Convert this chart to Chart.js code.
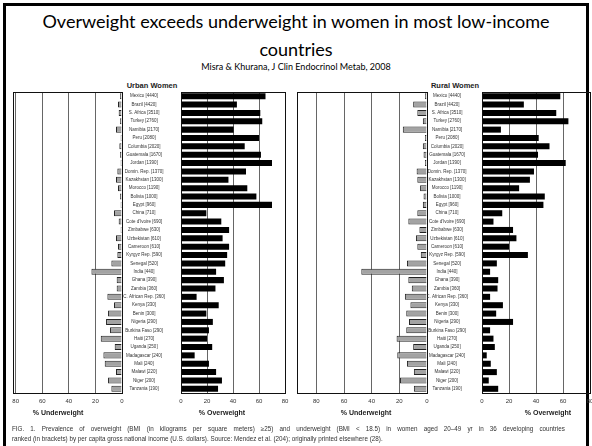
<!DOCTYPE html>
<html>
<head>
<meta charset="utf-8">
<script src="https://cdn.jsdelivr.net/npm/chart.js@4/dist/chart.umd.min.js"></script>
<style>
  html, body { margin: 0; padding: 0; background: #fff; }
  #slide { position: relative; width: 592px; height: 446px; overflow: hidden; background: #fff; }
  #border { position: absolute; left: 3px; top: 3px; width: 586px; height: 470px; border: 3px solid #000; box-sizing: border-box; }
  .txt { position: absolute; white-space: nowrap; color: #000; }
  #t1 { left: 0; width: 592px; top: 10px; text-align: center; font: 18px Lato, sans-serif; }
  #t2 { left: 0; width: 592px; top: 38px; text-align: center; font: 18px Lato, sans-serif; }
  #sub { left: 0; width: 592px; top: 61px; text-align: center; font: 9px Lato, sans-serif; }
  .ptitle { top: 81px; width: 80px; text-align: center; font: bold 7.5px "Liberation Sans", sans-serif; color: #222; }
  .atitle { top: 409px; width: 80px; text-align: center; font: bold 7px "Liberation Sans", sans-serif; color: #222; }
  #cap1, #cap2 { left: 12px; font: 6.3px "Liberation Sans", sans-serif; color: #333; }
  #cap1 { top: 425px; width: 553px; white-space: normal; text-align: justify; text-align-last: justify; }
  #cap2 { top: 435px; }
  canvas { position: absolute; }
</style>
</head>
<body>
<div id="slide">
  <div id="border"></div>
  <div class="txt" id="t1">Overweight exceeds underweight in women in most low-income</div>
  <div class="txt" id="t2">countries</div>
  <div class="txt" id="sub">Misra &amp; Khurana, J Clin Endocrinol Metab, 2008</div>
  <div class="txt ptitle" style="left:112px">Urban Women</div>
  <div class="txt ptitle" style="left:415px">Rural Women</div>
  <canvas id="uUnder" width="130" height="333" style="left:0px;top:80px"></canvas>
  <canvas id="uOver" width="175" height="333" style="left:120px;top:80px"></canvas>
  <canvas id="rUnder" width="150" height="333" style="left:285px;top:80px"></canvas>
  <canvas id="rOver" width="180" height="333" style="left:425px;top:80px"></canvas>
  <div class="txt atitle" style="left:18px">% Underweight</div>
  <div class="txt atitle" style="left:182px">% Overweight</div>
  <div class="txt atitle" style="left:326px">% Underweight</div>
  <div class="txt atitle" style="left:508px">% Overweight</div>
  <div class="txt" id="cap1">FIG. 1. Prevalence of overweight (BMI (in kilograms per square meters) &#8805;25) and underweight (BMI &lt; 18.5) in women aged 20&#8211;49 yr in 36 developing countries</div>
  <div class="txt" id="cap2">ranked (in brackets) by per capita gross national income (U.S. dollars). Source: Mendez et al. (204); originally printed elsewhere (28).</div>
</div>
<script>
// Countries, ranked by per capita GNI (US$)
const countries = [
  'Mexico [4440]', 'Brazil [4420]', 'S. Africa [3510]', 'Turkey [2760]', 'Namibia [2170]',
  'Peru [2080]', 'Columbia [2020]', 'Guatemala [1670]', 'Jordan [1390]', 'Domin. Rep. [1370]',
  'Kazakhstan [1300]', 'Morocco [1190]', 'Bolivia [1000]', 'Egypt [960]', 'China [710]',
  "Cote d'Ivoire [690]", 'Zimbabwe [630]', 'Uzbekistan [610]', 'Cameroon [610]', 'Kyrgyz Rep. [590]',
  'Senegal [520]', 'India [440]', 'Ghana [390]', 'Zambia [360]', 'C. African Rep. [360]',
  'Kenya [330]', 'Benin [300]', 'Nigeria [290]', 'Burkina Faso [290]', 'Haiti [270]',
  'Uganda [250]', 'Madagascar [240]', 'Mali [240]', 'Malawi [220]', 'Niger [200]', 'Tanzania [190]'
];

// Prevalence (%) among urban women
const urbanUnder = [1.5, 3, 2.5, 1.5, 4.5, 1, 2, 1.5, 1, 3.5, 4.5, 3, 1.5, 1, 6, 2.5, 1, 4.5, 3, 3.5,
                    8, 23, 4, 4, 11, 6, 10.5, 12, 9, 16, 5.5, 14, 13, 4.5, 10.5, 8];
const urbanOver  = [65, 43, 61, 62.5, 40.5, 60, 49, 61.5, 70, 50, 36.5, 51, 58, 70, 19.5, 31, 37, 32, 37, 35.5,
                    34, 27, 33, 26.5, 12, 29, 19.5, 24.5, 21.5, 20, 24, 10.5, 21.5, 27, 31.5, 28.5];

// Prevalence (%) among rural women
const ruralUnder = [1.5, 10, 7, 3, 17.5, 1.5, 3, 2.5, 1.5, 7.5, 7, 5, 2.5, 3, 7, 13.5, 5.5, 8, 7, 4.5,
                    14.5, 47.5, 13.5, 11, 16, 12, 15, 13, 15, 22, 10, 21.5, 14.5, 9.5, 19.5, 9.5];
const ruralOver  = [58, 31, 55, 64, 14, 42, 50, 41.5, 62, 38.5, 35.5, 27.5, 46.5, 45.5, 15, 8.5, 23, 25.5, 20, 34,
                    11, 6, 12, 11.5, 6, 15.5, 10.5, 23, 6, 8.5, 9.5, 3.5, 6.5, 11, 5, 12];

const tickValues = [0, 20, 40, 60, 80];

const FONT = '"Liberation Sans", sans-serif';

// Outline each plot area
const framePlugin = {
  id: 'frame',
  afterDatasetsDraw(chart) {
    const { ctx, chartArea: a } = chart;
    ctx.save();
    ctx.strokeStyle = '#111';
    ctx.lineWidth = 1;
    ctx.strokeRect(Math.round(a.left) + 0.5, Math.round(a.top) + 0.5,
                   Math.round(a.right - a.left), Math.round(a.bottom - a.top));
    ctx.restore();
  }
};

function xScale(max, reverse) {
  return {
    type: 'linear', min: 0, max: max, reverse: reverse,
    afterBuildTicks: s => { s.ticks = tickValues.map(v => ({ value: v })); },
    afterFit: s => { s.height = 20; },
    grid: { color: '#666', lineWidth: 1, drawTicks: false },
    border: { display: true, color: '#111', width: 1 },
    ticks: { font: { size: 6, family: FONT }, color: '#333', padding: 5 }
  };
}

function makePanel(id, values, opts) {
  const under = opts.under;
  return new Chart(document.getElementById(id), {
    type: 'bar',
    data: {
      labels: countries,
      datasets: [{
        data: values,
        backgroundColor: under ? '#a3a3a3' : '#000',
        borderColor: under ? '#222' : '#000',
        borderWidth: under ? 1 : 0,
        barPercentage: 0.72,
        categoryPercentage: 1
      }]
    },
    options: {
      indexAxis: 'y',
      responsive: false,
      animation: false,
      events: [],
      layout: { padding: opts.padding },
      plugins: { legend: { display: false }, tooltip: { enabled: false } },
      scales: {
        x: xScale(opts.max, under),
        y: under
          ? { display: false }
          : {
              grid: { display: false },
              border: { display: true, color: '#111' },
              afterFit: s => { s.width = opts.labelWidth; },
              ticks: {
                autoSkip: false, crossAlign: 'center', padding: opts.labelPad,
                font: { size: 4.5, family: FONT }, color: '#333'
              }
            }
      }
    },
    plugins: [framePlugin]
  });
}

makePanel('uUnder', urbanUnder, { under: true, max: 82, padding: { left: 13, right: 8, top: 12, bottom: 0 } });
makePanel('uOver', urbanOver, { under: false, max: 80, labelWidth: 59, labelPad: 8, padding: { left: 2, right: 10, top: 12, bottom: 0 } });
makePanel('rUnder', ruralUnder, { under: true, max: 94, padding: { left: 12, right: 8, top: 12, bottom: 0 } });
makePanel('rOver', ruralOver, { under: false, max: 80, labelWidth: 55, labelPad: 6, padding: { left: 2, right: 15, top: 12, bottom: 0 } });
</script>
</body>
</html>
